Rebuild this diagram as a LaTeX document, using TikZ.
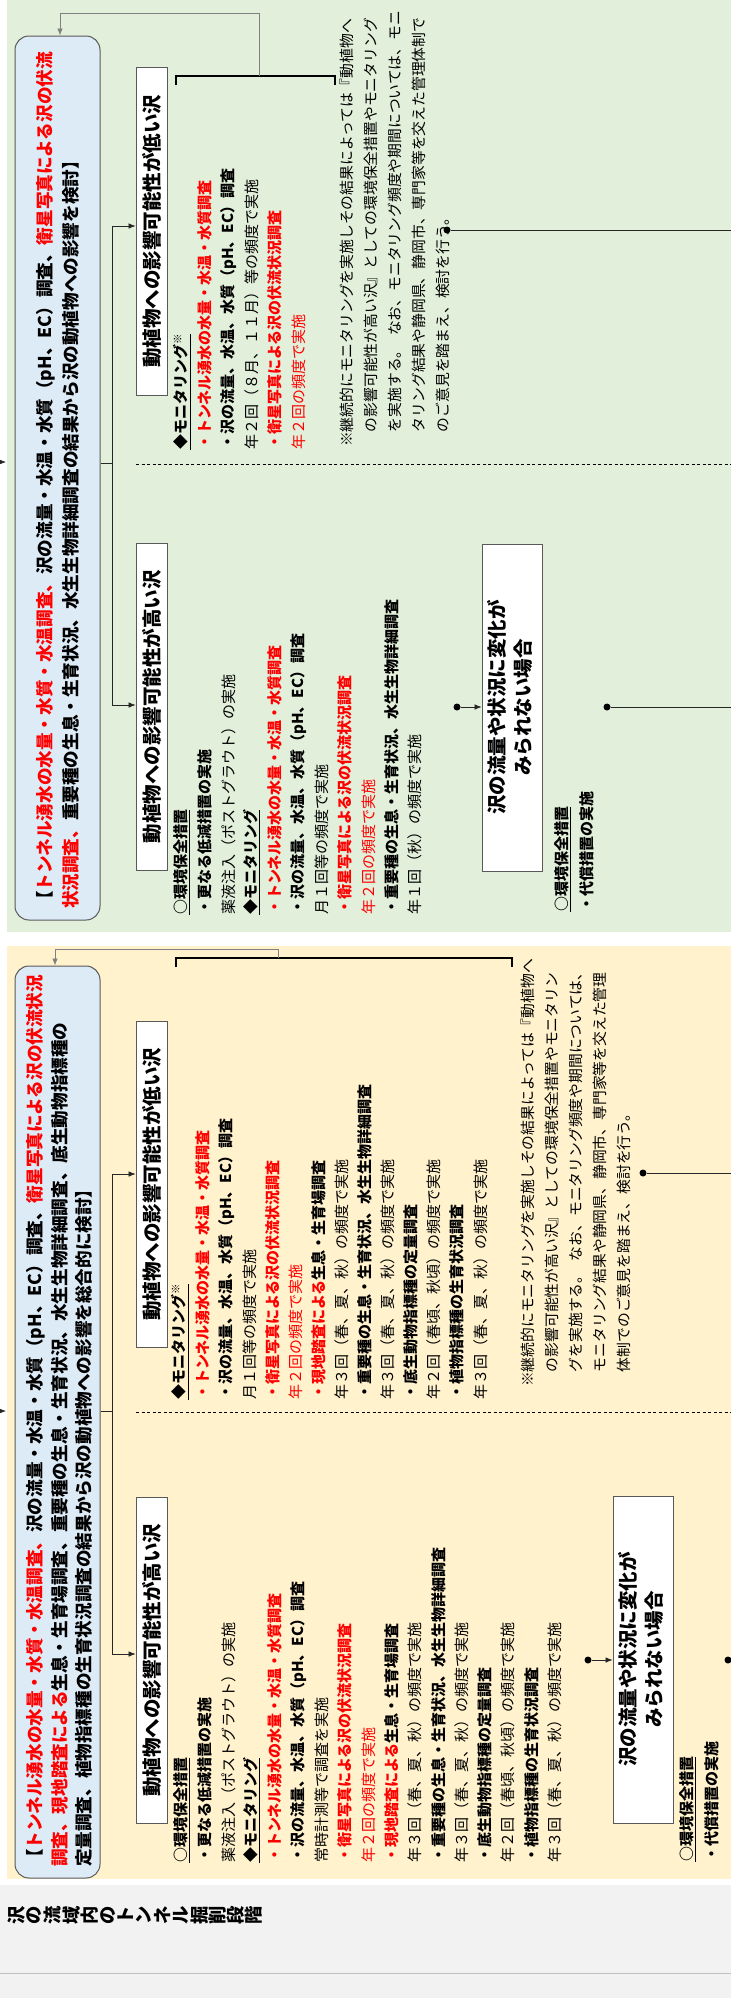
\documentclass[tikz,border=0pt]{standalone}
\usepackage{fontspec}
\setmainfont{Noto Sans CJK JP}
\usepackage{graphicx}
\usetikzlibrary{arrows.meta,calc}

\definecolor{pgreen}{HTML}{E2EFDA}
\definecolor{pyellow}{HTML}{FFF2CC}
\definecolor{pblue}{HTML}{DDEBF7}
\definecolor{pgray}{HTML}{F2F2F2}
\definecolor{jred}{HTML}{FF0000}
\definecolor{bgray}{HTML}{595959}
\definecolor{lgray}{HTML}{808080}

\newcommand\fbody{\fontsize{15}{18}\selectfont}
\newcommand\fnote{\fontsize{14.8}{18}\selectfont}
\newcommand\fhead{\fontsize{19.5}{26}\selectfont\bfseries}
\newcommand\fblue{\fontsize{17.6}{24}\selectfont\bfseries}
\newcommand\TL[4]{\node[tx,#3] (#1) at #2 {#4};}
\newcommand\redt[1]{\textcolor{jred}{#1}}

\begin{document}
\begin{tikzpicture}[x=1pt,y=-1pt,
  tx/.style={rotate=90,anchor=west,inner sep=0pt,font=\fbody,text=black},
  bd/.style={font=\fbody\bfseries},
  rd/.style={text=jred},
  nt/.style={font=\fnote},
  hch/.style={rotate=90,inner sep=0pt,font=\fontsize{18.3}{20}\selectfont\bfseries},
  wbox/.style={draw=bgray,fill=white,line width=0.8pt,inner sep=0pt,font=\fhead,align=center},
  bbox/.style={draw=bgray,fill=pblue,line width=1pt,rounded corners=14pt,inner sep=0pt,minimum width=85pt},
  conn/.style={draw=black!85,line width=0.7pt},
  arr/.style={conn,-{Latex[length=7pt,width=5.5pt]}},
  loopc/.style={draw=lgray,line width=0.7pt,-{Latex[length=7pt,width=5.5pt]}},
  brk/.style={draw=black,line width=1.1pt},
  dsh/.style={draw=black,line width=0.7pt,dash pattern=on 3pt off 2.5pt},
  dot/.style={circle,fill=black,inner sep=0pt,minimum size=7pt}]

\useasboundingbox (0,0) rectangle (731,2003);
\fill[white] (0,0) rectangle (731,2003);
\fill[pgreen] (7,-2) rectangle (731,932);
\fill[pyellow] (7,946) rectangle (731,1879);
\fill[pgray] (0,1885) rectangle (731,1998);
\draw[draw=black!25,line width=0.8pt] (0,1973) -- (731,1973);

% header label (vertical text, rotated): one node per character
\foreach \c [count=\i] in {沢,の,流,域,内,の,ト,ン,ネ,ル,掘,削,段,階}
  \node[hch] (hc\i) at ({7+18.3*(\i-0.5)},1915) {\c};

% ================= GREEN PANEL =================
\node[bbox,minimum height=884pt] (gblue) at (57.5,478) {};
\node[tx,font=\fblue] (gbl1) at (46,909) {【\redt{トンネル湧水の水量・水質・水温調査、}沢の流量・水温・水質（pH、EC）調査、\redt{衛星写真による沢の伏流}};
\node[tx,font=\fblue] (gbl2) at (71,909) {\redt{状況調査、}重要種の生息・生育状況、水生生物詳細調査の結果から沢の動植物への影響を検討】};

\node[wbox,minimum width=31pt,minimum height=328pt] (glow) at (151.5,231) {\rotatebox{90}{動植物への影響可能性が低い沢}};
\node[wbox,minimum width=31pt,minimum height=327pt] (ghigh) at (151.5,706.5) {\rotatebox{90}{動植物への影響可能性が高い沢}};
\node[wbox,minimum width=60pt,minimum height=327pt] (gun) at (512,707.5) {\rotatebox{90}{\begin{tabular}{@{}c@{}}沢の流量や状況に変化が\\みられない場合\end{tabular}}};

\coordinate (gin0) at (-12,462); \coordinate (gin1) at (6,462);
\draw[arr] (gin0) -- (gin1);
\coordinate (gtA) at (112,226); \coordinate (gtB) at (112,705); \coordinate (gtM) at (112,463);
\draw[conn] (gblue.east |- gtM) -- (gtM);
\draw[conn] (gtA) -- (gtB);
\draw[arr] (gtA) -- (gtA -| glow.west);
\draw[arr] (gtB) -- (gtB -| ghigh.west);

\coordinate (gbrL) at (176,85); \coordinate (gbrR) at (335,85); \coordinate (gbrM) at (259,76);
\draw[brk] (gbrL) -- ++(0,-9) -| (gbrR);
\draw[loopc] (gbrM) -- ++(0,-63) -| ([xshift=2.5pt]gblue.north);

\coordinate (gdsA) at (136,464); \coordinate (gdsB) at (735,464);
\draw[dsh] (gdsA) -- (gdsB);

\node[dot] (gdot1) at (447,230) {}; \coordinate (gdot1e) at (735,230);
\draw[conn] (gdot1) -- (gdot1e);
\node[dot] (gdot2) at (457,707) {};
\draw[arr] (gdot2) -- (gdot2 -| gun.west);
\node[dot] (gdot3) at (607,707) {}; \coordinate (gdot3e) at (735,707);
\draw[conn] (gdot3) -- (gdot3e);

% green low text
\TL{gl1}{(182,450)}{bd}{\underline{◆モニタリング\textsuperscript{※}}}
\TL{gl2}{(205.3,450)}{bd,rd}{・トンネル湧水の水量・水温・水質調査}
\TL{gl3}{(228.6,450)}{bd}{・沢の流量、水温、水質（pH、EC）調査}
\TL{gl4}{(251.9,450)}{}{年２回（８月、１１月）等の頻度で実施}
\TL{gl5}{(275.2,450)}{bd,rd}{・衛星写真による沢の伏流状況調査}
\TL{gl6}{(298.5,450)}{rd}{年２回の頻度で実施}

% green note
\TL{gn1}{(347,447)}{nt}{※継続的にモニタリングを実施しその結果によっては『動植物へ}
\TL{gn2}{(371,447)}{nt}{　の影響可能性が高い沢』としての環境保全措置やモニタリング}
\TL{gn3}{(395,447)}{nt}{　を実施する。\hspace{0.5em}なお、モニタリング頻度や期間については、モニ}
\TL{gn4}{(419,447)}{nt}{　タリング結果や静岡県、静岡市、専門家等を交えた管理体制で}
\TL{gn5}{(443,447)}{nt}{　のご意見を踏まえ、検討を行う。}

% green high text
\TL{gh1}{(182,915)}{bd}{\underline{○環境保全措置}}
\TL{gh2}{(205.3,915)}{bd}{・更なる低減措置の実施}
\TL{gh3}{(228.6,915)}{}{薬液注入（ポストグラウト）の実施}
\TL{gh4}{(251.9,915)}{bd}{\underline{◆モニタリング}}
\TL{gh5}{(275.2,915)}{bd,rd}{・トンネル湧水の水量・水温・水質調査}
\TL{gh6}{(298.5,915)}{bd}{・沢の流量、水温、水質（pH、EC）調査}
\TL{gh7}{(321.8,915)}{}{月１回等の頻度で実施}
\TL{gh8}{(345.1,915)}{bd,rd}{・衛星写真による沢の伏流状況調査}
\TL{gh9}{(368.4,915)}{rd}{年２回の頻度で実施}
\TL{gh10}{(391.7,915)}{bd}{・重要種の生息・生育状況、水生生物詳細調査}
\TL{gh11}{(415,915)}{}{年１回（秋）の頻度で実施}

\TL{gu1}{(563,912)}{bd}{\underline{○環境保全措置}}
\TL{gu2}{(587,912)}{bd}{・代償措置の実施}

% ================= YELLOW PANEL =================
\node[bbox,minimum height=912pt] (yblue) at (57.5,1422) {};
\node[tx,font=\fblue] (ybl1) at (36,1867) {【\redt{トンネル湧水の水量・水質・水温調査、}沢の流量・水温・水質（pH、EC）調査、\redt{衛星写真による沢の伏流状況}};
\node[tx,font=\fblue] (ybl2) at (60,1867) {\redt{調査、現地踏査による}生息・生育場調査、重要種の生息・生育状況、水生生物詳細調査、底生動物指標種の};
\node[tx,font=\fblue] (ybl3) at (84,1867) {定量調査、植物指標種の生育状況調査の結果から沢の動植物への影響を総合的に検討】};

\node[wbox,minimum width=31pt,minimum height=326pt] (ylow) at (151.5,1184) {\rotatebox{90}{動植物への影響可能性が低い沢}};
\node[wbox,minimum width=31pt,minimum height=326pt] (yhigh) at (151.5,1660) {\rotatebox{90}{動植物への影響可能性が高い沢}};
\node[wbox,minimum width=60pt,minimum height=327pt] (yun) at (643,1659.5) {\rotatebox{90}{\begin{tabular}{@{}c@{}}沢の流量や状況に変化が\\みられない場合\end{tabular}}};

\coordinate (yin0) at (-12,1411); \coordinate (yin1) at (6,1411);
\draw[arr] (yin0) -- (yin1);
\coordinate (ytA) at (112,1174); \coordinate (ytB) at (112,1654); \coordinate (ytM) at (112,1411);
\draw[conn] (yblue.east |- ytM) -- (ytM);
\draw[conn] (ytA) -- (ytB);
\draw[arr] (ytA) -- (ytA -| ylow.west);
\draw[arr] (ytB) -- (ytB -| yhigh.west);

\coordinate (ybrL) at (176,967); \coordinate (ybrR) at (512,967); \coordinate (ybrM) at (278,958);
\draw[brk] (ybrL) -- ++(0,-9) -| (ybrR);
\draw[loopc] (ybrM) -- ++(0,-9) -| ([xshift=-2.5pt]yblue.north);

\coordinate (ydsA) at (136,1412); \coordinate (ydsB) at (735,1412);
\draw[dsh] (ydsA) -- (ydsB);

\node[dot] (ydot1) at (643,1173) {}; \coordinate (ydot1e) at (735,1173);
\draw[conn] (ydot1) -- (ydot1e);
\node[dot] (ydot2) at (588,1660) {};
\draw[arr] (ydot2) -- (ydot2 -| yun.west);
\node[dot] (ydot3) at (728,1660) {}; \coordinate (ydot3e) at (735,1660);
\draw[conn] (ydot3) -- (ydot3e);

% yellow low text
\TL{yl1}{(180,1400)}{bd}{\underline{◆モニタリング\textsuperscript{※}}}
\TL{yl2}{(203.1,1400)}{bd,rd}{・トンネル湧水の水量・水温・水質調査}
\TL{yl3}{(226.2,1400)}{bd}{・沢の流量、水温、水質（pH、EC）調査}
\TL{yl4}{(249.3,1400)}{}{月１回等の頻度で実施}
\TL{yl5}{(272.4,1400)}{bd,rd}{・衛星写真による沢の伏流状況調査}
\TL{yl6}{(295.5,1400)}{rd}{年２回の頻度で実施}
\TL{yl7}{(318.6,1400)}{bd}{\redt{・現地踏査による}生息・生育場調査}
\TL{yl8}{(341.7,1400)}{}{年３回（春、夏、秋）の頻度で実施}
\TL{yl9}{(364.8,1400)}{bd}{・重要種の生息・生育状況、水生生物詳細調査}
\TL{yl10}{(387.9,1400)}{}{年３回（春、夏、秋）の頻度で実施}
\TL{yl11}{(411,1400)}{bd}{・底生動物指標種の定量調査}
\TL{yl12}{(434.1,1400)}{}{年２回（春頃、秋頃）の頻度で実施}
\TL{yl13}{(457.2,1400)}{bd}{・植物指標種の生育状況調査}
\TL{yl14}{(480.3,1400)}{}{年３回（春、夏、秋）の頻度で実施}

% yellow note
\TL{yn1}{(528,1387)}{nt}{※継続的にモニタリングを実施しその結果によっては『動植物へ}
\TL{yn2}{(552,1387)}{nt}{　の影響可能性が高い沢』としての環境保全措置やモニタリン}
\TL{yn3}{(576,1387)}{nt}{　グを実施する。\hspace{0.5em}なお、モニタリング頻度や期間については、}
\TL{yn4}{(600,1387)}{nt}{　モニタリング結果や静岡県、静岡市、専門家等を交えた管理}
\TL{yn5}{(624,1387)}{nt}{　体制でのご意見を踏まえ、検討を行う。}

% yellow high text
\TL{yh1}{(182,1863)}{bd}{\underline{○環境保全措置}}
\TL{yh2}{(205.3,1863)}{bd}{・更なる低減措置の実施}
\TL{yh3}{(228.6,1863)}{}{薬液注入（ポストグラウト）の実施}
\TL{yh4}{(251.9,1863)}{bd}{\underline{◆モニタリング}}
\TL{yh5}{(275.2,1863)}{bd,rd}{・トンネル湧水の水量・水温・水質調査}
\TL{yh6}{(298.5,1863)}{bd}{・沢の流量、水温、水質（pH、EC）調査}
\TL{yh7}{(321.8,1863)}{}{常時計測等で調査を実施}
\TL{yh8}{(345.1,1863)}{bd,rd}{・衛星写真による沢の伏流状況調査}
\TL{yh9}{(368.4,1863)}{rd}{年２回の頻度で実施}
\TL{yh10}{(391.7,1863)}{bd}{\redt{・現地踏査による}生息・生育場調査}
\TL{yh11}{(415,1863)}{}{年３回（春、夏、秋）の頻度で実施}
\TL{yh12}{(438.3,1863)}{bd}{・重要種の生息・生育状況、水生生物詳細調査}
\TL{yh13}{(461.6,1863)}{}{年３回（春、夏、秋）の頻度で実施}
\TL{yh14}{(484.9,1863)}{bd}{・底生動物指標種の定量調査}
\TL{yh15}{(508.2,1863)}{}{年２回（春頃、秋頃）の頻度で実施}
\TL{yh16}{(531.5,1863)}{bd}{・植物指標種の生育状況調査}
\TL{yh17}{(554.8,1863)}{}{年３回（春、夏、秋）の頻度で実施}

\TL{yu1}{(688,1862)}{bd}{\underline{○環境保全措置}}
\TL{yu2}{(712,1862)}{bd}{・代償措置の実施}

\end{tikzpicture}
\end{document}
